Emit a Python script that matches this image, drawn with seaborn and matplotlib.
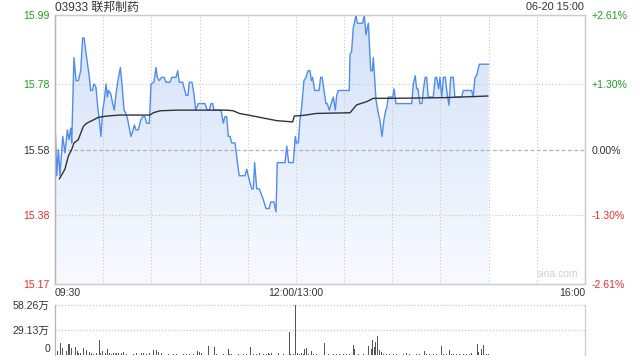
import numpy as np
import pandas as pd
import matplotlib
matplotlib.use("Agg")
import matplotlib.pyplot as plt
import matplotlib.transforms as mtrans
from matplotlib.colors import LinearSegmentedColormap
import seaborn as sns

sns.set_theme(style="white")
plt.rcParams["font.family"] = ["Liberation Sans", "Noto Sans CJK SC", "DejaVu Sans"]

# ---------------- data ----------------
title = "03933 联邦制药"
stamp = "06-20 15:00"
prev_close = 15.58
price_ticks = [15.99, 15.78, 15.58, 15.38, 15.17]
pct_labels = ["+2.61%", "+1.30%", "0.00%", "-1.30%", "-2.61%"]
time_ticks = [0, 150, 330]
time_labels = ["09:30", "12:00/13:00", "16:00"]
vol_ticks = [29.13, 58.26]
vol_labels = ["29.13万", "58.26万"]

# trading minutes since 09:30 (lunch break removed) and price
price_t = [0.0, 0.6, 1.1, 2.1, 3.1, 4.8, 6.2, 7.7, 8.7, 9.8, 10.4, 11.8, 13.1, 14.5, 16.0,
           17.2, 18.1, 19.7, 21.4, 22.2, 23.2, 24.3, 25.5, 26.6, 27.6, 28.6, 29.7, 30.7,
           31.8, 32.6, 33.4, 34.7, 35.9, 36.9, 38.0, 39.2, 40.7, 41.7, 43.0, 44.2, 45.3,
           46.3, 47.3, 48.4, 49.4, 50.4, 51.9, 53.4, 54.6, 56.0, 57.1, 58.7, 59.8, 61.6,
           62.9, 63.7, 64.9, 66.4, 67.9, 69.1, 71.6, 72.7, 75.3, 76.4, 77.4, 79.5, 80.8,
           81.6, 82.8, 83.6, 85.3, 86.5, 87.6, 89.2, 93.4, 94.8, 96.1, 97.1, 98.2, 99.0,
           103.4, 104.8, 105.8, 106.9, 107.9, 109.0, 110.0, 112.1, 113.1, 114.7, 118.3,
           119.4, 120.3, 122.5, 123.5, 124.3, 125.6, 127.2, 128.7, 129.5, 131.4, 133.4,
           134.3, 136.3, 137.6, 138.4, 143.2, 144.3, 145.5, 148.4, 149.6, 150.4, 151.5,
           152.5, 153.6, 155.0, 156.3, 157.5, 158.8, 159.6, 160.4, 161.7, 164.4, 165.4,
           166.4, 167.5, 168.7, 169.5, 170.8, 172.0, 173.3, 174.5, 175.4, 176.4, 183.2,
           183.7, 184.7, 185.7, 187.4, 188.2, 191.5, 192.6, 193.6, 195.1, 196.6, 197.6,
           198.2, 199.2, 199.9, 201.3, 202.3, 203.6, 204.8, 205.9, 206.5, 207.5, 210.3,
           211.1, 212.3, 222.1, 223.1, 224.3, 225.2, 226.0, 227.2, 228.5, 229.3, 230.5,
           231.4, 232.4, 235.5, 236.8, 237.6, 238.9, 239.7, 240.8, 241.8, 243.0, 244.3,
           245.3, 246.4, 248.0, 249.0, 253.2, 254.2, 259.4, 260.4, 261.5, 262.5, 264.2,
           270.0]
price_v = [15.66, 15.58, 15.50, 15.58, 15.50, 15.62, 15.57, 15.64, 15.61, 15.645, 15.60,
           15.86, 15.79, 15.79, 15.82, 15.92, 15.92, 15.86, 15.80, 15.76, 15.76, 15.78,
           15.77, 15.71, 15.67, 15.62, 15.70, 15.73, 15.78, 15.74, 15.76, 15.75, 15.72,
           15.70, 15.75, 15.79, 15.83, 15.78, 15.70, 15.69, 15.67, 15.645, 15.62, 15.635,
           15.655, 15.64, 15.64, 15.67, 15.68, 15.68, 15.66, 15.66, 15.78, 15.785, 15.83,
           15.80, 15.79, 15.80, 15.80, 15.785, 15.785, 15.80, 15.80, 15.82, 15.785, 15.785,
           15.76, 15.745, 15.745, 15.785, 15.785, 15.75, 15.70, 15.72, 15.72, 15.70, 15.70,
           15.72, 15.72, 15.70, 15.70, 15.66, 15.68, 15.68, 15.62, 15.62, 15.60, 15.60,
           15.56, 15.50, 15.50, 15.52, 15.50, 15.46, 15.46, 15.54, 15.46, 15.46, 15.44,
           15.43, 15.40, 15.40, 15.42, 15.42, 15.39, 15.54, 15.54, 15.59, 15.54, 15.54,
           15.62, 15.60, 15.60, 15.67, 15.71, 15.79, 15.80, 15.82, 15.82, 15.79, 15.80,
           15.76, 15.76, 15.80, 15.80, 15.76, 15.72, 15.72, 15.70, 15.72, 15.74, 15.70,
           15.745, 15.76, 15.76, 15.87, 15.88, 15.95, 15.99, 15.965, 15.965, 15.99, 15.93,
           15.965, 15.82, 15.82, 15.86, 15.785, 15.73, 15.69, 15.67, 15.62, 15.67, 15.70,
           15.705, 15.74, 15.74, 15.765, 15.72, 15.72, 15.78, 15.805, 15.765, 15.765,
           15.72, 15.72, 15.76, 15.80, 15.80, 15.74, 15.74, 15.80, 15.80, 15.765, 15.80,
           15.74, 15.80, 15.80, 15.745, 15.715, 15.80, 15.80, 15.74, 15.74, 15.76, 15.76,
           15.74, 15.80, 15.805, 15.84, 15.84]

avg_t = [2.7, 6.2, 8.3, 10.4, 11.8, 14.5, 17.6, 19.7, 23.8, 27.0, 32.2, 40.5, 59.1, 61.2,
         65.4, 75.8, 106.9, 111.0, 114.7, 120.3, 127.6, 138.0, 148.0, 149.0, 154.6, 162.9,
         183.7, 187.8, 194.1, 198.2, 210.6, 241.8, 269.6]
avg_v = [15.49, 15.52, 15.56, 15.58, 15.60, 15.61, 15.65, 15.66, 15.67, 15.678, 15.682,
         15.685, 15.685, 15.692, 15.698, 15.70, 15.70, 15.698, 15.69, 15.685, 15.678,
         15.668, 15.664, 15.682, 15.684, 15.69, 15.692, 15.716, 15.726, 15.736, 15.736,
         15.738, 15.743]

# volume, in 万 shares
vol_t = [0.0, 1.5, 2.5, 3.5, 4.6, 6.2, 7.3, 8.3, 9.3, 10.4, 11.8, 12.9, 13.9, 14.9, 16.0,
         17.6, 18.7, 19.7, 21.4, 22.8, 23.9, 24.9, 25.9, 27.6, 28.6, 29.7, 30.5, 31.7,
         32.6, 33.8, 35.3, 36.3, 37.4, 38.4, 39.4, 40.5, 41.5, 42.5, 44.6, 46.7, 48.8,
         50.8, 52.9, 54.0, 55.0, 57.1, 59.1, 61.2, 62.3, 63.3, 64.3, 65.4, 66.4, 68.5,
         70.6, 73.7, 75.7, 77.8, 79.9, 82.0, 84.0, 86.1, 87.8, 88.8, 89.8, 91.3, 93.4,
         95.5, 96.5, 99.2, 100.6, 102.7, 104.8, 107.9, 108.9, 110.0, 112.7, 114.1, 115.2,
         117.2, 119.3, 122.0, 123.5, 125.5, 127.6, 129.7, 131.8, 132.8, 133.8, 134.9,
         137.0, 139.0, 140.1, 142.1, 145.9, 146.7, 148.4, 150.0, 151.1, 152.5, 153.6,
         154.6, 155.6, 156.7, 157.7, 159.8, 160.8, 162.9, 165.0, 167.7, 168.7, 170.2,
         173.3, 175.3, 177.4, 179.5, 181.6, 183.6, 184.9, 185.7, 186.5, 187.4, 188.8,
         190.5, 191.9, 193.0, 195.0, 196.1, 197.1, 197.7, 198.8, 199.8, 200.7, 202.3,
         203.4, 204.4, 206.5, 208.5, 210.6, 212.7, 214.8, 216.8, 218.9, 221.0, 223.5,
         225.2, 227.2, 230.3, 231.4, 233.4, 235.5, 237.6, 239.7, 240.7, 241.8, 243.8,
         245.5, 246.9, 248.0, 250.0, 252.1, 254.2, 256.3, 258.3, 259.4, 261.5, 262.9,
         263.9, 265.6, 266.6, 267.7, 268.7, 269.8]
vol_v = [7.1, 4.3, 5.9, 14.2, 8.3, 3.1, 4.3, 13.0, 13.0, 8.3, 3.1, 9.8, 4.3, 2.0, 2.0,
         8.3, 4.3, 6.3, 3.9, 2.4, 1.2, 2.0, 2.4, 17.7, 2.4, 4.3, 7.1, 2.0, 7.1, 2.0, 1.2,
         2.4, 1.2, 2.0, 2.0, 2.0, 2.0, 3.9, 1.2, 1.2, 1.2, 2.0, 2.0, 2.4, 2.4, 1.2, 2.0,
         5.9, 3.1, 5.9, 3.1, 4.3, 2.0, 1.2, 1.2, 1.2, 1.2, 1.2, 1.2, 1.2, 1.2, 1.2, 7.1,
         4.3, 3.1, 2.0, 2.0, 11.0, 3.1, 9.8, 1.2, 1.2, 1.2, 7.1, 1.2, 1.2, 9.0, 1.2, 9.8,
         1.2, 1.2, 9.8, 1.2, 1.2, 2.0, 1.2, 1.2, 2.0, 1.2, 2.0, 1.2, 2.0, 1.2, 1.2, 26.4,
         1.2, 1.2, 58.26, 2.0, 1.2, 2.0, 1.2, 7.1, 8.3, 1.2, 5.1, 1.2, 1.2, 1.2, 13.8, 3.9,
         1.2, 1.2, 1.2, 1.2, 1.2, 1.2, 1.2, 22.8, 12.2, 7.1, 35.8, 1.2, 5.1, 1.2, 1.2,
         11.0, 7.1, 7.1, 16.9, 9.8, 15.0, 21.6, 5.9, 3.9, 1.2, 1.2, 1.2, 1.2, 1.2, 1.2,
         1.2, 2.4, 1.2, 17.7, 1.2, 1.2, 5.1, 1.2, 1.2, 1.2, 1.2, 3.1, 11.0, 1.2, 1.2, 5.9,
         1.2, 1.2, 1.2, 1.2, 1.2, 1.2, 1.2, 2.0, 7.1, 13.0, 3.1, 7.1, 12.2, 5.9, 1.2, 1.2]

# ---------------- styling ----------------
GREEN = "#1e9e1e"
RED = "#ee2c2c"
DARK = "#333333"
LINE = "#4f8ded"
GRID = "#c8c8c8"

price_df = pd.DataFrame({"t": price_t, "price": price_v})
avg_df = pd.DataFrame({"t": avg_t, "avg": avg_v})
vol_df = pd.DataFrame({"t": vol_t, "vol": vol_v})

W, H = 640, 360
fig = plt.figure(figsize=(6.4, 3.6), dpi=100)
fig.patch.set_facecolor("white")
ax = fig.add_axes([55 / W, 1 - 284 / H, 530 / W, 269 / H])
axv = fig.add_axes([55 / W, 1 - 355 / H, 530 / W, 50 / H])

ymin, ymax = price_ticks[-1], price_ticks[0]
ax.set_xlim(0, 330)
ax.set_ylim(ymin, ymax)

# gradient fill under the price line
poly = ax.fill_between(price_df["t"], price_df["price"], ymin, color="none", lw=0)
cmap = LinearSegmentedColormap.from_list("g", ["#f8faff", "#d3e1f8"])
grad = np.linspace(0, 1, 256).reshape(-1, 1)
im = ax.imshow(grad, extent=[0, 330, ymin, ymax], origin="lower", aspect="auto",
               cmap=cmap, zorder=1)
im.set_clip_path(poly.get_paths()[0], transform=ax.transData)

# grid (drawn above the fill, below the lines)
for v in [15.78, 15.38]:
    ax.axhline(v, color=GRID, lw=0.8, ls=(0, (1, 2)), zorder=2)
ax.axhline(prev_close, color="#b0b0b0", lw=0.9, ls=(0, (3, 2)), zorder=2)
for x in range(30, 330, 30):
    ax.axvline(x, color=GRID, lw=0.8, ls=(0, (1, 2)), zorder=2)

sns.lineplot(data=price_df, x="t", y="price", ax=ax, color=LINE, lw=1.0,
             estimator=None, sort=False, zorder=3)
sns.lineplot(data=avg_df, x="t", y="avg", ax=ax, color=DARK, lw=1.0,
             estimator=None, sort=False, zorder=4)

ax.set_xlabel("")
ax.set_ylabel("")
ax.set_xticks([])
ax.set_yticks(price_ticks)
ax.set_yticklabels([f"{v:.2f}" for v in price_ticks])
lab_colors = [GREEN, GREEN, DARK, RED, RED]
for lab, c in zip(ax.get_yticklabels(), lab_colors):
    lab.set_color(c)
ax.tick_params(axis="y", length=0, pad=4, labelsize=7.6)

ax2 = ax.twinx()
ax2.set_ylim(ymin, ymax)
ax2.set_yticks(price_ticks)
ax2.set_yticklabels(pct_labels)
for lab, c in zip(ax2.get_yticklabels(), lab_colors):
    lab.set_color(c)
ax2.tick_params(axis="y", length=0, pad=5, labelsize=7.6)
ax2.set_ylabel("")

for a in (ax, ax2):
    for s in a.spines.values():
        s.set_color("#cccccc")
        s.set_linewidth(0.9)
    a.spines["left"].set_color("#b5b5b5")

trans = mtrans.blended_transform_factory(ax.transData, ax.transAxes)
aligns = ["left", "center", "right"]
for x, lbl, ha in zip(time_ticks, time_labels, aligns):
    ax.text(x, -0.034, lbl, transform=trans, ha=ha, va="center", fontsize=7.6, color=DARK)

ax.text(0.988, 0.018, "sina.com", transform=ax.transAxes, ha="right", va="bottom",
        fontsize=7.5, color="#d0d0d0")

fig.text(55 / W, 1 - 7.5 / H, title, ha="left", va="center", fontsize=8.6, color=DARK)
fig.text(584 / W, 1 - 7.5 / H, stamp, ha="right", va="center", fontsize=7.8, color=DARK)

# volume panel
axv.bar(vol_df["t"], vol_df["vol"], width=0.55, color="#555555", lw=0)
axv.set_xlim(0, 330)
axv.set_ylim(0, vol_ticks[-1])
axv.axhline(vol_ticks[0], color=GRID, lw=0.9, ls=(0, (1, 1.5)), zorder=0)
axv.axhline(vol_ticks[1], color=GRID, lw=0.9, ls=(0, (1, 1.5)), zorder=0, clip_on=False)
axv.set_xticks([])
axv.set_yticks(vol_ticks)
axv.set_yticklabels(vol_labels)
axv.tick_params(axis="y", length=0, pad=4, labelsize=7.6, colors=DARK)
axv.text(-0.009, 0.12, "0", transform=axv.transAxes, ha="right", va="center",
         fontsize=7.6, color=DARK)
axv.set_xlabel("")
axv.set_ylabel("")
axv.spines["top"].set_visible(False)
axv.spines["bottom"].set_visible(False)
axv.spines["left"].set_color("#b5b5b5")
axv.spines["right"].set_color("#cccccc")
for s in ("left", "right"):
    axv.spines[s].set_linewidth(0.9)

fig.savefig("out.png", dpi=100, facecolor="white")
